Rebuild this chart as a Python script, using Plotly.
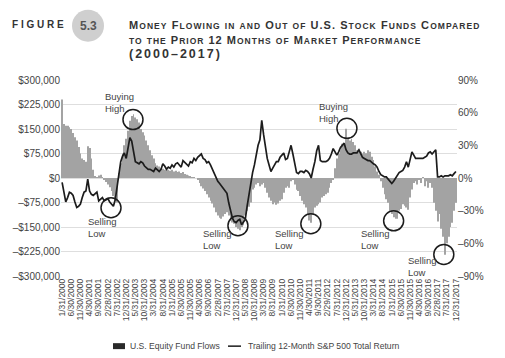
import calendar
import plotly.graph_objects as go

# ---------------- data ----------------
years_months = [(2000 + k // 12, k % 12 + 1) for k in range(216)]
date_labels = [f"{m}/{calendar.monthrange(y, m)[1]}/{y}" for (y, m) in years_months]

# U.S. equity fund flows (thousands of $), monthly
flows_k = [
    240, 165, 160, 160, 155, 150, 138, 125, 115, 95,
    75, 60, 55, 50, 97, 92, 60, 25, 5, 3,
    8, 10, 2, -5, -12, -20, -28, -40, -55, -65,
    -75, 15, 45, 75, 100, 120, 145, 175, 190, 195,
    185, 180, 170, 150, 140, 130, 115, 100, 85, 70,
    60, 45, 38, 35, 30, 28, 25, 30, 25, 22,
    25, 20, 22, 18, 20, 15, 18, 12, 10, 8,
    5, 3, 2, 0, -5, -15, -25, -32, -40, -50,
    -60, -70, -78, -90, -105, -115, -122, -125, -118, -110,
    -105, -115, -130, -136, -140, -150, -155, -160, -150, -145,
    -115, -100, -88, -75, -35, -30, -20, -15, -25, -20,
    -15, -30, -45, -60, -70, -80, -75, -82, -78, -70,
    -65, -45, -30, -25, -30, -10, -5, -20, -36, -40,
    -55, -70, -80, -90, -110, -130, -137, -110, -90, -85,
    -80, -75, -60, -55, -50, -45, -30, -15, -5, 30,
    60, 75, 85, 105, 100, 151, 120, 115, 120, 110,
    100, 85, 90, 80, 75, 80, 76, 85, 80, 65,
    55, 35, 20, 10, -10, -30, -50, -65, -76, -100,
    -110, -120, -125, -125, -100, -95, -80, -85, -90, -97,
    -60, -35, -15, -10, -20, -5, -15, 3, -25, -10,
    -30, -15, -30, -76, -100, -133, -110, -155, -180, -235,
    -200, -180, -150, -137, -100, -76,
]
flows = [v * 1000 for v in flows_k]

# Trailing 12-month S&P 500 total return (%)
sp_return = [
    -4, -13, -22, -18, -13, -14, -16, -22, -27, -26,
    -24, -18, -13, -12, -1, -12, -15, -16, -14, -13,
    -21, -19, -18, -21, -20, -19, -22, -24, -26, -20,
    -8, 5, 15, 20, 23, 18, 28, 37, 34, 24,
    15, 14, 13, 15, 14, 11, 9, 8, 8, 7,
    6, 9, 7, 6, 8, 13, 11, 8, 10, 9,
    12, 10, 13, 14, 12, 10, 16, 14, 13, 11,
    15, 14, 18, 16, 19, 21, 22, 18, 17, 14,
    15, 12, 8, 5, 0, -3, -5, -7, -10, -12,
    -14, -23, -30, -37, -40, -41, -39, -38, -43, -41,
    -38, -26, -15, -5, 5, 12, 22, 30, 35, 53,
    40, 28, 18, 12, 6, 9, 12, 15, 15, 19,
    21, 23, 17, 18, 24, 30, 22, 14, 5, 4,
    6, 6, 5, 7, 6, 4, 0, 8, 15, 25,
    30, 16, 15, 15, 15, 16, 18, 22, 27, 24,
    21, 24, 28, 30, 32, 26, 23, 22, 22, 23,
    23, 23, 26, 22, 19, 18, 17, 16, 16, 14,
    13, 12, 10, 6, 3, 2, 1, 1, -1, -3,
    -5, -3, 0, 3, 5, 6, 7, 10, 15, 10,
    18, 24, 21, 18, 18, 18, 18, 18, 19, 20,
    23, 24, 22, 24, 26, 1, 1, 2, 1, 2,
    2, 2, 3, 2, 4, 6,
]

left_tickvals = [300000, 225000, 150000, 75000, 0, -75000, -150000, -225000, -300000]
left_ticktext = ["$300,000", "$225,000", "$150,000", "$75,000", "$0",
                 "\u2013$75,000", "\u2013$150,000", "\u2013$225,000", "\u2013$300,000"]
right_tickvals = [90, 60, 30, 0, -30, -60, -90]
right_ticktext = ["90%", "60%", "30%", "0%", "\u201330%", "\u201360%", "\u201390%"]

legend_names = ["U.S. Equity Fund Flows", "Trailing 12-Month S&P 500 Total Return"]

# callouts: (label, month index, flow value of circle centre, text anchor idx, text anchor value)
callouts = [
    ("Buying<br>High", 38.7, 179000, 22.5, 232000),
    ("Selling<br>Low", 26.7, -91000, 13.3, -150000),
    ("Selling<br>Low", 96.0, -146000, 75.8, -188000),
    ("Buying<br>High", 155.5, 152000, 139.2, 202000),
    ("Selling<br>Low", 135.8, -140000, 115.2, -188000),
    ("Selling<br>Low", 181.0, -131000, 162.0, -188000),
    ("Selling<br>Low", 208.4, -234000, 187.5, -270000),
]

# ---------------- figure ----------------
n = len(flows)
idx = list(range(n))
FONT = "Liberation Sans, Arial, sans-serif"
TXT = "#444444"

fig = go.Figure()
fig.add_trace(go.Bar(x=idx, y=flows, marker=dict(color="#a3a3a3", line=dict(width=0)),
                     name=legend_names[0], showlegend=False, hoverinfo="skip"))
fig.add_trace(go.Scatter(x=idx, y=sp_return, yaxis="y2", mode="lines",
                         line=dict(color="#1c1c1c", width=1.7), name=legend_names[1],
                         showlegend=False))

# the page body adds an 8px margin, so the figure is drawn 8px in from the window corner
OFF = 8
W, H = 505 - OFF, 358 - OFF
L, R, T, B = 61 - OFF, 457 - OFF, 79.5 - OFF, 276.5 - OFF


def px_x(px):
    return (px - OFF - L) / (R - L)


def px_y(py):
    return (B - (py - OFF)) / (B - T)


fig.update_layout(
    width=W, height=H,
    margin=dict(l=L, r=W - R, t=T, b=H - B, pad=0, autoexpand=False),
    paper_bgcolor="white", plot_bgcolor="white",
    bargap=0.5,
    font=dict(family=FONT, size=10, color=TXT),
    xaxis=dict(range=[-0.6, n - 0.4], tickmode="array", tickvals=idx[::5],
               ticktext=date_labels[::5], tickangle=-90, automargin=False,
               tickfont=dict(size=8.5, color=TXT), showgrid=False, zeroline=False,
               showline=False, ticks=""),
    yaxis=dict(range=[-300000, 300000], tickmode="array", tickvals=left_tickvals,
               ticktext=left_ticktext, showgrid=True, gridcolor="#dedede", gridwidth=1,
               automargin=False,
               zeroline=False, showline=False, ticks="", tickfont=dict(size=10, color=TXT)),
    yaxis2=dict(range=[-90, 90], overlaying="y", side="right", tickmode="array",
                tickvals=right_tickvals, ticktext=right_ticktext, showgrid=False,
                automargin=False,
                zeroline=False, showline=False, ticks="", tickfont=dict(size=10, color=TXT)),
    showlegend=False,
)

shapes = []
annotations = []
for label, ci, cv, ti, tv in callouts:
    shapes.append(dict(type="circle", xref="x", yref="y", xsizemode="pixel", ysizemode="pixel",
                       xanchor=ci, yanchor=cv, x0=-10, x1=10, y0=-10, y1=10,
                       line=dict(color="#1c1c1c", width=1.5), fillcolor="rgba(0,0,0,0)"))
    annotations.append(dict(x=ti, y=tv, xref="x", yref="y", text=label, showarrow=False,
                            xanchor="left", yanchor="middle", align="left",
                            font=dict(size=9.5, color=TXT, family=FONT)))

# legend (drawn manually to match the compact original)
shapes.append(dict(type="rect", xref="paper", yref="paper",
                   x0=px_x(113), x1=px_x(125), y0=px_y(350), y1=px_y(344),
                   fillcolor="#2a2a2a", line=dict(width=0)))
annotations.append(dict(x=px_x(128), y=px_y(347), xref="paper", yref="paper", xanchor="left",
                        yanchor="middle", showarrow=False, text=legend_names[0],
                        font=dict(size=8.6, color=TXT, family=FONT)))
shapes.append(dict(type="line", xref="paper", yref="paper",
                   x0=px_x(228), x1=px_x(241), y0=px_y(347), y1=px_y(347),
                   line=dict(color="#1c1c1c", width=1.5)))
annotations.append(dict(x=px_x(246), y=px_y(347), xref="paper", yref="paper", xanchor="left",
                        yanchor="middle", showarrow=False, text=legend_names[1],
                        font=dict(size=8.6, color=TXT, family=FONT)))

# header: FIGURE  (5.3)  title in small caps
shapes.append(dict(type="circle", xref="paper", yref="paper",
                   x0=px_x(72), x1=px_x(104), y0=px_y(41), y1=px_y(9),
                   fillcolor="#cfcfcf", line=dict(width=0)))
annotations.append(dict(x=px_x(10), y=px_y(24), xref="paper", yref="paper", xanchor="left",
                        yanchor="middle", showarrow=False, text="<b>F I G U R E</b>",
                        font=dict(size=10, color="#333333", family=FONT)))
annotations.append(dict(x=px_x(88), y=px_y(25), xref="paper", yref="paper", xanchor="center",
                        yanchor="middle", showarrow=False, text="<b>5.3</b>",
                        font=dict(size=12, color="#555555", family=FONT)))


def small_caps(s, small=8.5):
    out = []
    for ch in s:
        if ch.islower():
            out.append(f'<span style="font-size:{small}px">{ch.upper()}</span>')
        else:
            out.append(ch)
    return "".join(out)


TFONT = "Liberation Sans, Arial, sans-serif"
title_lines = [
    ("Money Flowing in and Out of U.S. Stock Funds Compared", 24, 11, 1.05),
    ("to the Prior 12 Months of Market Performance", 39, 11, 1.0),
    ("(2000\u20132017)", 53, 12.5, 2.0),
]
for txt, ypx, fsize, spacing in title_lines:
    annotations.append(dict(x=px_x(127), y=px_y(ypx), xref="paper", yref="paper",
                            xanchor="left", yanchor="middle", showarrow=False,
                            text=f'<b><span style="letter-spacing:{spacing}px">'
                                 + small_caps(txt) + "</span></b>",
                            font=dict(size=fsize, color="#333333", family=TFONT)))

fig.update_layout(shapes=shapes, annotations=annotations)
fig.write_html("out.html")
